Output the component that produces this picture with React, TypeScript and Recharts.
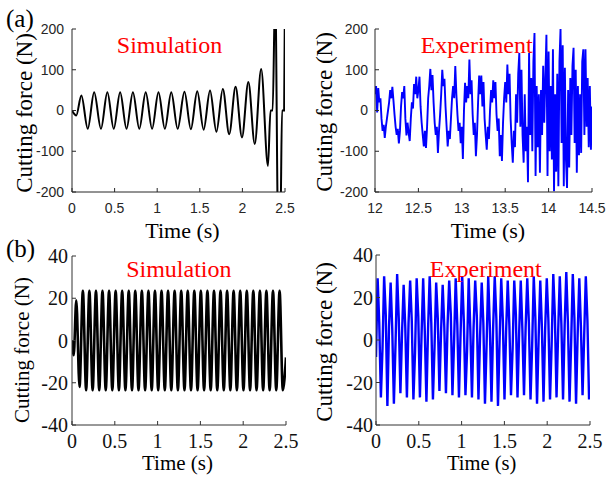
import React from 'react';
import { LineChart, Line, XAxis, YAxis } from 'recharts';

// ---------- data ----------
const SIM_A_TIME = [
  0, 0.05, 0.11, 0.185, 0.26, 0.34, 0.415, 0.49, 0.565, 0.64, 0.715, 0.79, 0.865, 0.94,
  1.015, 1.09, 1.165, 1.24, 1.32, 1.395, 1.47, 1.545, 1.62, 1.695, 1.77, 1.845, 1.92,
  1.995, 2.07, 2.145, 2.22, 2.3, 2.33, 2.355, 2.385, 2.42, 2.445, 2.465, 2.49, 2.5,
];
const SIM_A_FORCE = [
  0, -12, 37, -45, 45, -45, 45, -45, 45, -45, 45, -45, 45, -45,
  45, -45, 45, -45, 46, -46, 47, -47, 49, -52, 53, -58, 58,
  -66, 70, -82, 102, -136, 0, 0, 300, -300, -300, 0, 0, 300,
];

const EXP_A_START = 12;
const EXP_A_STEP = 0.0125;
const EXP_A_FORCE = [
  40, 60, -5, 55, 20, 30, -20, -50, -35, -67,
  -40, -20, 0, 20, 50, 30, 58, 25, -10, -40,
  -60, -45, -81, -50, 10, 45, 30, 60, -20, -61,
  -30, -55, -75, -20, 20, 5, 65, 40, 83, 30,
  50, 83, 10, -30, -60, -88, -50, -92, -40, 30,
  60, 102, 50, 87, 20, -30, -60, -40, -104, -50,
  -10, 40, 100, 60, 78, 10, -40, -88, -50, -70,
  -20, 30, 60, 30, 109, 40, -10, -50, -30, -80,
  -40, -119, 0, 68, 20, 60, 30, 125, 40, 74,
  -10, -60, -30, -112, -60, 20, 86, 40, 86, 10,
  70, -20, -60, -96, -40, -70, 0, 50, 20, 74,
  30, 70, -10, -50, -20, -112, -60, -124, -30, 30,
  70, 20, 113, 40, 90, -20, -80, -128, -50, -90,
  40, -30, 90, 141, -40, 100, -60, -128, 40, -100,
  -40, -176, 141, -60, 80, -100, 120, 190, -161, 60,
  -90, 40, -153, 50, -60, 110, -30, 80, 186, -161,
  145, -100, 60, -120, 150, -198, 40, -150, 90, -186,
  120, 200, -80, 160, -186, 105, -120, -190, 50, -140,
  80, -60, 110, 154, -80, 100, -153, 60, -110, 40,
  -104, 120, 150, -60, 150, -40, 80, -90, 60, -96,
  10,
];

const SIM_B_TIME = [
  0, 0.02, 0.05, 0.088, 0.127, 0.165, 0.203, 0.241, 0.28, 0.318, 0.356, 0.394, 0.433,
  0.471, 0.51, 0.548, 0.586, 0.624, 0.663, 0.701, 0.739, 0.777, 0.816, 0.854, 0.893,
  0.931, 0.969, 1.007, 1.046, 1.084, 1.122, 1.16, 1.199, 1.237, 1.276, 1.314, 1.352,
  1.39, 1.429, 1.467, 1.505, 1.543, 1.582, 1.62, 1.659, 1.697, 1.735, 1.773, 1.812,
  1.85, 1.888, 1.926, 1.965, 2.003, 2.042, 2.08, 2.118, 2.156, 2.195, 2.233, 2.271,
  2.309, 2.348, 2.386, 2.425, 2.463, 2.5,
];
const SIM_B_FORCE = [
  0, -7, 19, -22,
  23.5, -23.5, 23.5, -23.5, 23.5, -23.5, 23.5, -23.5, 23.5, -23.5,
  23.5, -23.5, 23.5, -23.5, 23.5, -23.5, 23.5, -23.5, 23.5, -23.5,
  23.5, -23.5, 23.5, -23.5, 23.5, -23.5, 23.5, -23.5, 23.5, -23.5,
  23.5, -23.5, 23.5, -23.5, 23.5, -23.5, 23.5, -23.5, 23.5, -23.5,
  23.5, -23.5, 23.5, -23.5, 23.5, -23.5, 23.5, -23.5, 23.5, -23.5,
  23.5, -23.5, 23.5, -23.5, 23.5, -23.5, 23.5, -23.5, 23.5, -23.5,
  23.5, -23.5,
  -8,
];

const EXP_B_START = 0;
const EXP_B_STEP = 0.019;
const EXP_B_FORCE = [
  -8,
  29, 8, -27, -4, 30, 12, -31, 6, 27, 5, -30, -2, 31, 10, -25, 3,
  26, 6, -27, 8, 28, 9, -28, -6, 29, 11, -27, 2, 29, 4, -29, 5,
  30, 8, -28, -3, 27, 10, -24, 4, 26, 6, -25, 7, 28, 12, -26, -1,
  29, 7, -27, 3, 30, 9, -26, -5, 29, 5, -27, 6, 28, 11, -28, 2,
  27, 8, -30, -2, 30, 6, -29, 5, 30, 10, -31, 0, 29, 9, -28, 4,
  28, 7, -26, -4, 28, 12, -27, 3, 28, 5, -26, 6, 29, 8, -28, -3,
  30, 10, -30, 1, 28, 6, -29, 5, 29, 9, -28, -2, 31, 11, -27, 4,
  30, 7, -28, 7, 32, 8, -29, -1, 31, 10, -30, 3, 29, 6, -26, 2,
  30, 9, -28,
];

const TIME_TICKS_SIM = [0, 0.5, 1, 1.5, 2, 2.5];
const TIME_TICKS_EXP_A = [12, 12.5, 13, 13.5, 14, 14.5];
const FORCE_TICKS_A = [-200, -100, 0, 100, 200];
const FORCE_TICKS_B = [-40, -20, 0, 20, 40];

// ---------- layout ----------
const W = 606;
const H = 477;
const SERIF = '"Liberation Serif", "Times New Roman", serif';
const SANS = '"Liberation Sans", Arial, sans-serif';

const simAData = SIM_A_TIME.map((t, i) => ({ t, v: SIM_A_FORCE[i] }));
const expAData = EXP_A_FORCE.map((v, i) => ({ t: EXP_A_START + i * EXP_A_STEP, v }));
const simBData = SIM_B_TIME.map((t, i) => ({ t, v: SIM_B_FORCE[i] }));
const expBData = EXP_B_FORCE.map((v, i) => ({ t: EXP_B_START + i * EXP_B_STEP, v }));

type PanelProps = {
  data: { t: number; v: number }[];
  l: number; t: number; r: number; b: number;
  xDomain: [number, number];
  xTicks: number[];
  yDomain: [number, number];
  yTicks: number[];
  color: string;
  strokeWidth: number;
  curve: 'monotone' | 'linear';
  tickFont: { fill: string; fontSize: number; fontFamily: string };
  axisColor: string;
  xTickMargin: number;
  yTickMargin: number;
};

function Panel(p: PanelProps) {
  const margin = { left: p.l - 60, top: p.t, right: W - p.r, bottom: H - p.b - 30 };
  return (
    <div style={{ position: 'absolute', left: 0, top: 0 }}>
      <LineChart width={W} height={H} data={p.data} margin={margin}>
        <XAxis
          xAxisId="bottom" dataKey="t" type="number" domain={p.xDomain} ticks={p.xTicks}
          allowDataOverflow height={30} orientation="bottom" tickSize={-4}
          tickMargin={p.xTickMargin} stroke={p.axisColor} tick={p.tickFont} interval={0}
        />
        <XAxis
          xAxisId="top" dataKey="t" type="number" domain={p.xDomain} ticks={p.xTicks}
          allowDataOverflow height={0} orientation="top" tickSize={-4}
          stroke={p.axisColor} tick={false} interval={0}
        />
        <YAxis
          yAxisId="left" type="number" domain={p.yDomain} ticks={p.yTicks}
          allowDataOverflow width={60} orientation="left" tickSize={-4}
          tickMargin={p.yTickMargin} stroke={p.axisColor} tick={p.tickFont} interval={0}
        />
        <YAxis
          yAxisId="right" type="number" domain={p.yDomain} ticks={p.yTicks}
          allowDataOverflow width={0} orientation="right" tickSize={-4}
          stroke={p.axisColor} tick={false} interval={0}
        />
        <Line
          xAxisId="bottom" yAxisId="left" dataKey="v" type={p.curve}
          stroke={p.color} strokeWidth={p.strokeWidth} dot={false}
          isAnimationActive={false}
        />
      </LineChart>
    </div>
  );
}

export default function App() {
  const tickA = { fill: '#262626', fontSize: 14, fontFamily: SANS };
  const tickB = { fill: '#111', fontSize: 20, fontFamily: SERIF };
  return (
    <div
      style={{
        position: 'absolute', left: 0, top: 0, width: W, height: H,
        background: '#fff', overflow: 'hidden',
      }}
    >
      <Panel
        data={simAData} l={72} t={29} r={285} b={192}
        xDomain={[0, 2.5]} xTicks={TIME_TICKS_SIM} yDomain={[-200, 200]} yTicks={FORCE_TICKS_A}
        color="#000" strokeWidth={2} curve="monotone" tickFont={tickA} axisColor="#262626"
        xTickMargin={15} yTickMargin={12}
      />
      <Panel
        data={expAData} l={375} t={29} r={592} b={192}
        xDomain={[12, 14.5]} xTicks={TIME_TICKS_EXP_A} yDomain={[-200, 200]} yTicks={FORCE_TICKS_A}
        color="#0000ff" strokeWidth={1.9} curve="linear" tickFont={tickA} axisColor="#262626"
        xTickMargin={15} yTickMargin={11}
      />
      <Panel
        data={simBData} l={72} t={256} r={286} b={425}
        xDomain={[0, 2.5]} xTicks={TIME_TICKS_SIM} yDomain={[-40, 40]} yTicks={FORCE_TICKS_B}
        color="#000" strokeWidth={2.6} curve="monotone" tickFont={tickB} axisColor="#333"
        xTickMargin={13} yTickMargin={8}
      />
      <Panel
        data={expBData} l={376} t={255} r={590} b={425}
        xDomain={[0, 2.5]} xTicks={TIME_TICKS_SIM} yDomain={[-40, 40]} yTicks={FORCE_TICKS_B}
        color="#0000ff" strokeWidth={2.4} curve="linear" tickFont={tickB} axisColor="#333"
        xTickMargin={13} yTickMargin={7}
      />
      <svg
        width={W} height={H}
        style={{ position: 'absolute', left: 0, top: 0, pointerEvents: 'none' }}
        fontFamily={SERIF}
      >
        <text x={6} y={27} fontSize={25} fill="#000">(a)</text>
        <text x={6} y={257} fontSize={25} fill="#000">(b)</text>

        <text x={169.5} y={53} fontSize={24} fill="#ff0000" textAnchor="middle">Simulation</text>
        <text x={476.7} y={53} fontSize={24} fill="#ff0000" textAnchor="middle">Experiment</text>
        <text x={178.8} y={277} fontSize={24} fill="#ff0000" textAnchor="middle">Simulation</text>
        <text x={485.8} y={277} fontSize={24} fill="#ff0000" textAnchor="middle">Experiment</text>

        <text x={182.5} y={238} fontSize={22} fill="#000" textAnchor="middle">Time (s)</text>
        <text x={488} y={238} fontSize={22} fill="#000" textAnchor="middle">Time (s)</text>
        <text x={177.5} y={470} fontSize={21} fill="#000" textAnchor="middle">Time (s)</text>
        <text x={481.7} y={470} fontSize={20.5} fill="#000" textAnchor="middle">Time (s)</text>

        <text x={32} y={113} fontSize={23} fill="#000" textAnchor="middle" transform="rotate(-90 32 113)">Cutting force (N)</text>
        <text x={332} y={112} fontSize={23} fill="#000" textAnchor="middle" transform="rotate(-90 332 112)">Cutting force (N)</text>
        <text x={29} y={350} fontSize={21} fill="#000" textAnchor="middle" transform="rotate(-90 29 350)">Cutting force (N)</text>
        <text x={332} y={342} fontSize={23} fill="#000" textAnchor="middle" transform="rotate(-90 332 342)">Cutting force (N)</text>
      </svg>
    </div>
  );
}
